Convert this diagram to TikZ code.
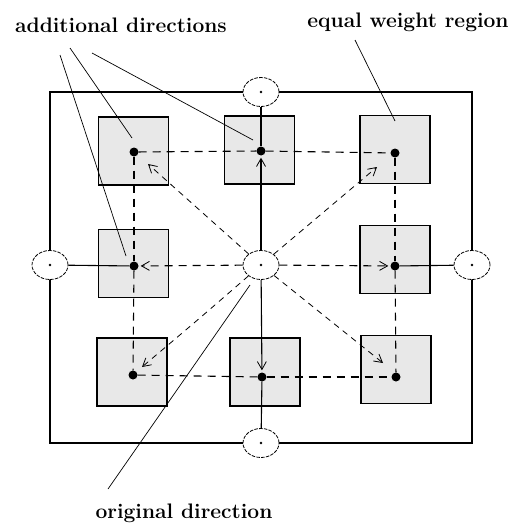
\documentclass[tikz,border=0pt]{standalone}
\usetikzlibrary{shapes.geometric,arrows.meta}
\begin{document}
\begin{tikzpicture}[x=1pt,y=-1pt,
  box/.style={draw, line width=1.1pt, fill=gray!18, minimum width=70pt, minimum height=68pt, inner sep=0pt},
  dotnode/.style={circle, fill=black, inner sep=0pt, minimum size=9pt},
  port/.style={ellipse, draw, fill=white, dash pattern=on 3.5pt off 1.3pt, line width=0.8pt, minimum width=36pt, minimum height=29pt, inner sep=0pt},
  solidline/.style={line width=1.1pt},
  gridline/.style={line width=1.1pt, dash pattern=on 8pt off 6pt},
  diagline/.style={line width=0.8pt, dash pattern=on 6pt off 5pt},
  callout/.style={line width=0.7pt},
  tip/.style={-{Straight Barb[length=8pt,width=9pt,line width=0.8pt]}},
  lbl/.style={font=\fontsize{21}{23}\selectfont\bfseries, anchor=base, inner sep=0pt}
]
\useasboundingbox (0,0) rectangle (527,527);

% outer frame
\draw[line width=1.1pt] (50,92) rectangle (472,443);

% boxes
\node[box] (bTL) at (133.5,151) {};
\node[box] (bTM) at (259.5,150) {};
\node[box] (bTR) at (395,149.5) {};
\node[box] (bML) at (133.5,263.5) {};
\node[box] (bMR) at (395,259.5) {};
\node[box] (bBL) at (132,372) {};
\node[box] (bBM) at (265,372) {};
\node[box] (bBR) at (396,369.5) {};

% dots
\node[dotnode] (TL) at (134,152) {};
\node[dotnode] (TM) at (261,151) {};
\node[dotnode] (TR) at (395,153) {};
\node[dotnode] (ML) at (134,266) {};
\node[dotnode] (MR) at (395,266) {};
\node[dotnode] (BL) at (133,375) {};
\node[dotnode] (BM) at (262,377) {};
\node[dotnode] (BR) at (396,377) {};

% ports
\node[port] (pT) at (261,92) {};
\node[port] (pL) at (50,265) {};
\node[port] (pR) at (472,265) {};
\node[port] (pB) at (261,443) {};
\node[port] (C) at (261,265) {};
\foreach \p in {pT,pL,pR,pB,C} \fill (\p.center) circle (1.3pt);

% dashed loop
\draw[gridline] (TL) -- (TM);
\draw[gridline] (TM) -- (TR);
\draw[gridline] (TR) -- (MR);
\draw[gridline] (MR) -- (BR);
\draw[gridline] (BL) -- (BM);
\draw[gridline] (BM) -- (BR);
\draw[gridline] (TL) -- (ML);
\draw[gridline] (ML) -- (BL);

% solid axes
\draw[solidline] (pT) -- (TM);
\draw[solidline, tip, shorten >=2pt] (C) -- (TM);
\draw[solidline, tip, shorten >=2pt] (C) -- (BM);
\draw[solidline] (BM) -- (pB);
\draw[solidline] (pL) -- (ML);
\draw[solidline] (MR) -- (pR);
\draw[gridline, tip, shorten >=2pt] (C) -- (ML);
\draw[gridline, tip, shorten >=2pt] (C) -- (MR);

% diagonal arrows
\coordinate (aTL) at (148,164);
\coordinate (aTR) at (377,167);
\coordinate (aBL) at (142,367);
\coordinate (aBR) at (383,363);
\draw[diagline, tip] (C) -- (aTL);
\draw[diagline, tip] (C) -- (aTR);
\draw[diagline, tip] (C) .. controls (200,318) .. (aBL);
\draw[diagline, tip] (C) -- (aBR);

% labels
\node[lbl] (lAdd) at (121,33) {additional directions};
\node[lbl] (lEq) at (408,28) {equal weight region};
\node[lbl] (lOr) at (184,518) {original direction};

% callouts
\coordinate (s1) at (60,55);
\coordinate (e1) at (126,256);
\coordinate (s2) at (70,48);
\coordinate (e2) at (132,138);
\coordinate (s3) at (92,53);
\coordinate (e3) at (253,140);
\coordinate (s4) at (355,40);
\coordinate (e4) at (395,121);
\coordinate (s5) at (108,489);
\coordinate (e5) at (250,285);
\draw[callout] (s1) -- (e1);
\draw[callout] (s2) -- (e2);
\draw[callout] (s3) -- (e3);
\draw[callout] (s4) -- (e4);
\draw[callout] (s5) -- (e5);
\end{tikzpicture}
\end{document}
